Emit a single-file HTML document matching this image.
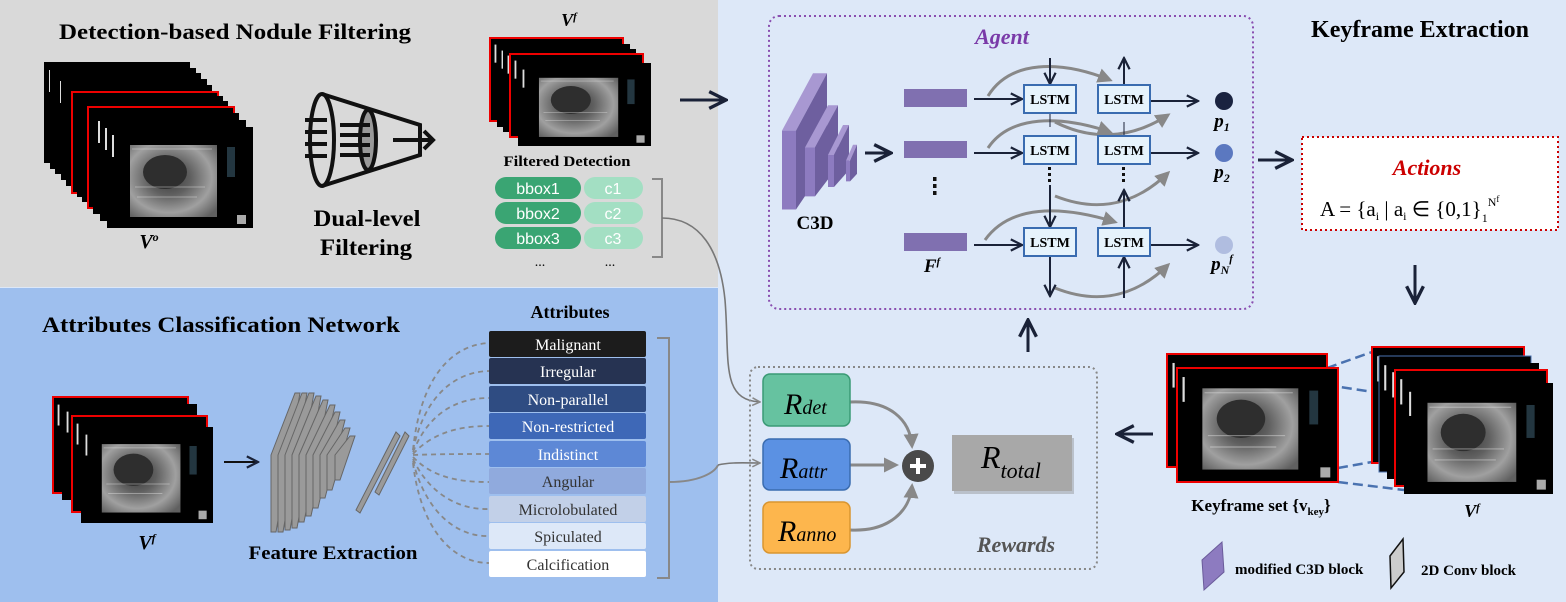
<!DOCTYPE html>
<html><head><meta charset="utf-8"><style>
html,body{margin:0;padding:0;background:#dde8f8;}
svg{display:block;font-family:"Liberation Serif",serif;}
</style></head><body>
<svg width="1566" height="602" viewBox="0 0 1566 602" xmlns="http://www.w3.org/2000/svg">
<defs>
<radialGradient id="ug" cx="0.45" cy="0.45" r="0.7">
<stop offset="0" stop-color="#3a3a3a"/><stop offset="0.35" stop-color="#606060"/><stop offset="0.7" stop-color="#a0a0a0"/><stop offset="1" stop-color="#606060"/>
</radialGradient>
<symbol id="us" viewBox="0 0 146 101" preserveAspectRatio="none">
<rect x="0" y="0" width="146" height="101" fill="#000"/>
<rect x="23" y="18" width="87" height="72" fill="url(#ug)"/>
<ellipse cx="58" cy="45" rx="22" ry="17" fill="#2e2e2e"/>
<path d="M25,22 h80 M28,60 h70 M30,70 h60" stroke="#ddd" stroke-width="0.8" opacity="0.6"/>
<rect x="5" y="8" width="2" height="22" fill="#ddd"/>
<rect x="120" y="20" width="8" height="30" fill="#3a5a6a" opacity="0.6"/>
<rect x="130" y="88" width="9" height="9" fill="#aaa"/>
</symbol>
<marker id="ak" viewBox="0 0 10 10" refX="9" refY="5" markerWidth="7" markerHeight="7" orient="auto"><path d="M1,1 L9,5 L1,9" fill="none" stroke="#1a2238" stroke-width="1.6"/></marker>
<marker id="ag" viewBox="0 0 10 10" refX="8" refY="5" markerWidth="5" markerHeight="5" orient="auto"><path d="M0,0 L10,5 L0,10 z" fill="#888"/></marker>
<marker id="agl" viewBox="0 0 10 10" refX="9" refY="5" markerWidth="6" markerHeight="6" orient="auto"><path d="M1,1 L9,5 L1,9" fill="none" stroke="#888" stroke-width="1.6"/></marker>
</defs>

<rect x="0" y="0" width="718" height="287" fill="#d9d9d9"/>
<rect x="0" y="288" width="718" height="314" fill="#9ebfee"/>
<rect x="719" y="0" width="847" height="602" fill="#dde8f8"/>

<text x="59" y="39" font-size="22" font-weight="bold" textLength="352" lengthAdjust="spacingAndGlyphs">Detection-based Nodule Filtering</text>
<g>
<use href="#us" x="44" y="62" width="146" height="101"/>
<use href="#us" x="50" y="68" width="146" height="101"/>
<use href="#us" x="55" y="73" width="146" height="101"/>
<use href="#us" x="61" y="79" width="146" height="101"/>
<use href="#us" x="66" y="85" width="146" height="101"/>
<use href="#us" x="72" y="92" width="146" height="101"/><rect x="72" y="92" width="146" height="101" fill="none" stroke="#e00" stroke-width="2"/>
<use href="#us" x="77" y="96" width="146" height="101"/>
<use href="#us" x="82" y="101" width="146" height="101"/>
<use href="#us" x="88" y="107" width="146" height="101"/><rect x="88" y="107" width="146" height="101" fill="none" stroke="#e00" stroke-width="2"/>
<use href="#us" x="93" y="113" width="146" height="101"/>
<use href="#us" x="100" y="120" width="146" height="101"/>
<use href="#us" x="107" y="127" width="146" height="101"/>
</g>
<text x="149" y="248" font-size="20" font-style="italic" font-weight="bold" text-anchor="middle">V<tspan font-size="12" dy="-7">o</tspan></text>

<g fill="none" stroke="#111" stroke-width="4">
<ellipse cx="322" cy="140" rx="12" ry="46"/>
<ellipse cx="368" cy="140" rx="8" ry="30" fill="#999"/>
<path d="M322,94 L420,125 L420,155 L322,186"/>
<path d="M305,120 h22 M305,132 h22 M305,144 h22 M305,156 h22"/>
<path d="M340,125 h30 M340,135 h30 M340,145 h30 M340,155 h30"/>
<path d="M393,140 h38 M424,131 l9,9 l-9,9"/>
</g>
<text x="367" y="226" font-size="23" font-weight="bold" text-anchor="middle" textLength="107" lengthAdjust="spacingAndGlyphs">Dual-level</text>
<text x="366" y="255" font-size="23" font-weight="bold" text-anchor="middle" textLength="92" lengthAdjust="spacingAndGlyphs">Filtering</text>

<text x="569" y="26" font-size="18" font-style="italic" font-weight="bold" text-anchor="middle">V<tspan font-size="11" dy="-6">f</tspan></text>
<use href="#us" x="490" y="38" width="133" height="83"/><rect x="490" y="38" width="133" height="83" fill="none" stroke="#e00" stroke-width="2"/>
<use href="#us" x="497" y="44" width="133" height="83"/>
<use href="#us" x="503" y="49" width="133" height="83"/>
<use href="#us" x="510" y="54" width="133" height="83"/><rect x="510" y="54" width="133" height="83" fill="none" stroke="#e00" stroke-width="2"/>
<use href="#us" x="518" y="63" width="133" height="83"/>
<text x="567" y="166" font-size="15" font-weight="bold" text-anchor="middle" textLength="127" lengthAdjust="spacingAndGlyphs">Filtered Detection</text>
<g font-family="Liberation Sans, sans-serif" font-size="16" fill="#fff" text-anchor="middle">
<rect x="495" y="177" width="86" height="22" rx="11" fill="#3aa573"/><rect x="584" y="177" width="59" height="22" rx="11" fill="#a3dfc3"/>
<text x="538" y="194">bbox1</text><text x="613" y="194">c1</text>
<rect x="495" y="202" width="86" height="22" rx="11" fill="#3aa573"/><rect x="584" y="202" width="59" height="22" rx="11" fill="#a3dfc3"/>
<text x="538" y="219">bbox2</text><text x="613" y="219">c2</text>
<rect x="495" y="227" width="86" height="22" rx="11" fill="#3aa573"/><rect x="584" y="227" width="59" height="22" rx="11" fill="#a3dfc3"/>
<text x="538" y="244">bbox3</text><text x="613" y="244">c3</text>
</g>
<text x="540" y="266" font-size="14" text-anchor="middle">...</text><text x="610" y="266" font-size="14" text-anchor="middle">...</text>
<path d="M652,179 h10 v78 h-10" fill="none" stroke="#888" stroke-width="2"/>
<path d="M680,100 h46" stroke="#1a2238" stroke-width="3" marker-end="url(#ak)"/>

<text x="42" y="332" font-size="22" font-weight="bold" textLength="358" lengthAdjust="spacingAndGlyphs">Attributes Classification Network</text>
<use href="#us" x="53" y="397" width="135" height="96"/><rect x="53" y="397" width="135" height="96" fill="none" stroke="#e00" stroke-width="2"/>
<use href="#us" x="62" y="404" width="135" height="96"/>
<use href="#us" x="72" y="416" width="135" height="96"/><rect x="72" y="416" width="135" height="96" fill="none" stroke="#e00" stroke-width="2"/>
<use href="#us" x="81" y="427" width="132" height="96"/>
<text x="147" y="549" font-size="20" font-style="italic" font-weight="bold" text-anchor="middle">V<tspan font-size="12" dy="-7">f</tspan></text>
<path d="M224,462 h34" stroke="#111" stroke-width="2" marker-end="url(#ak)"/>
<g fill="#9a9a9a" stroke="#666" stroke-width="1">
<polygon points="271,455 295,393 300,393 276,532 271,532"/>
<polygon points="278,455 302,393 307,393 283,532 278,532"/>
<polygon points="285,455 309,393 314,393 290,530 285,530"/>
<polygon points="292,455 316,396 321,396 297,528 292,528"/>
<polygon points="299,455 323,400 328,400 304,522 299,522"/>
<polygon points="306,455 330,405 335,405 311,516 306,516"/>
<polygon points="313,455 335,412 340,412 318,508 313,508"/>
<polygon points="320,455 340,420 345,420 325,498 320,498"/>
<polygon points="327,455 345,428 350,428 332,490 327,490"/>
<polygon points="335,455 350,436 355,436 340,480 335,480"/>
<polygon points="356,510 396,432 400,436 360,513"/>
<polygon points="375,492 405,432 409,436 379,495"/>
</g>
<text x="333" y="559" font-size="19" font-weight="bold" text-anchor="middle" textLength="169" lengthAdjust="spacingAndGlyphs">Feature Extraction</text>
<text x="570" y="318" font-size="18" font-weight="bold" text-anchor="middle">Attributes</text>
<g fill="none" stroke="#888" stroke-width="1.8" stroke-dasharray="5,4">
<path d="M413,450 C420,380 450,345 489,343"/>
<path d="M413,450 C425,395 455,372 489,371"/>
<path d="M413,452 C430,410 460,398 489,398"/>
<path d="M413,454 C435,430 465,426 489,426"/>
<path d="M413,455 C440,454 465,454 489,454"/>
<path d="M413,457 C435,480 465,482 489,482"/>
<path d="M413,459 C430,495 460,510 489,509"/>
<path d="M413,461 C425,510 455,537 489,536"/>
<path d="M413,463 C420,525 450,563 489,563"/>
</g>
<g font-size="16" text-anchor="middle">
<rect x="489" y="331" width="157" height="26" rx="2" fill="#1c1c1c"/><text x="568" y="350" fill="#fff">Malignant</text>
<rect x="489" y="358" width="157" height="26" rx="2" fill="#263352"/><text x="568" y="377" fill="#fff">Irregular</text>
<rect x="489" y="386" width="157" height="26" rx="2" fill="#2f4c82"/><text x="568" y="405" fill="#fff">Non-parallel</text>
<rect x="489" y="413" width="157" height="26" rx="2" fill="#3e68b7"/><text x="568" y="432" fill="#fff">Non-restricted</text>
<rect x="489" y="441" width="157" height="26" rx="2" fill="#5d88d6"/><text x="568" y="460" fill="#fff">Indistinct</text>
<rect x="489" y="468" width="157" height="26" rx="2" fill="#90aadd"/><text x="568" y="487" fill="#333">Angular</text>
<rect x="489" y="496" width="157" height="26" rx="2" fill="#c2d0e8"/><text x="568" y="515" fill="#333">Microlobulated</text>
<rect x="489" y="523" width="157" height="26" rx="2" fill="#dde8f8"/><text x="568" y="542" fill="#333">Spiculated</text>
<rect x="489" y="551" width="157" height="26" rx="2" fill="#fff"/><text x="568" y="570" fill="#333">Calcification</text>
</g>
<path d="M657,338 h12 v240 h-12 M669,482 C700,482 715,472 718,465" fill="none" stroke="#888" stroke-width="2"/>

<path d="M662,218 C700,218 720,250 725,300 C730,360 720,400 760,402" fill="none" stroke="#777" stroke-width="1.6" marker-end="url(#agl)"/>
<path d="M718,465 C730,462 745,463 760,463" fill="none" stroke="#777" stroke-width="1.6" marker-end="url(#agl)"/>

<rect x="769" y="16" width="484" height="293" rx="10" fill="none" stroke="#8a4fb0" stroke-width="2" stroke-dasharray="2,3"/>
<text x="1002" y="44" font-size="22" font-weight="bold" font-style="italic" fill="#7a3aa8" text-anchor="middle">Agent</text>
<g transform="matrix(1,0,0,0.94,0,-1)">
<polygon points="782,140 813,79 827,79 796,140" fill="#a898d2"/>
<polygon points="782,140 796,140 796,224 782,224" fill="#8d7bc0"/>
<polygon points="796,140 827,79 827,175 796,224" fill="#6e5f9f"/>
<polygon points="805,158 828,113 838,113 815,158" fill="#a898d2"/>
<polygon points="805,158 815,158 815,210 805,210" fill="#8d7bc0"/>
<polygon points="815,158 838,113 838,178 815,210" fill="#6e5f9f"/>
<polygon points="828,166 843,134 849,134 834,166" fill="#a898d2"/>
<polygon points="828,166 834,166 834,200 828,200" fill="#8d7bc0"/>
<polygon points="834,166 849,134 849,182 834,200" fill="#6e5f9f"/>
<polygon points="846,172 853,155 857,155 850,172" fill="#a898d2"/>
<polygon points="846,172 850,172 850,194 846,194" fill="#8d7bc0"/>
<polygon points="850,172 857,155 857,186 850,194" fill="#6e5f9f"/>
</g>
<text x="815" y="229" font-size="19" font-weight="bold" text-anchor="middle">C3D</text>
<path d="M865,153 h26" stroke="#1a2238" stroke-width="3" marker-end="url(#ak)"/>
<rect x="904" y="89" width="63" height="18" fill="#8070b0"/>
<rect x="904" y="141" width="63" height="17" fill="#8070b0"/>
<rect x="904" y="233" width="63" height="18" fill="#8070b0"/>
<g fill="#111"><rect x="933" y="177" width="3.5" height="4"/><rect x="933" y="184" width="3.5" height="4"/><rect x="933" y="191" width="3.5" height="4"/></g>
<text x="932" y="272" font-size="19" font-style="italic" font-weight="bold" text-anchor="middle">F<tspan font-size="11" dy="-7">f</tspan></text>

<g fill="none" stroke="#888" stroke-width="3">
<path d="M988,96 C1010,60 1060,60 1110,80" marker-end="url(#ag)"/>
<path d="M988,148 C1010,115 1060,115 1110,132" marker-end="url(#ag)"/>
<path d="M985,240 C1010,205 1060,205 1115,222" marker-end="url(#ag)"/>
<path d="M1055,122 C1090,140 1130,140 1168,115" marker-end="url(#ag)"/>
<path d="M1055,196 C1090,210 1130,210 1168,173" marker-end="url(#ag)"/>
<path d="M1055,288 C1090,302 1130,302 1168,265" marker-end="url(#ag)"/>
</g>
<g stroke="#1a2238" stroke-width="2" fill="none">
<path d="M974,99 h48" marker-end="url(#ak)"/>
<path d="M974,153 h48" marker-end="url(#ak)"/>
<path d="M974,245 h48" marker-end="url(#ak)"/>
<path d="M1150,101 h48" marker-end="url(#ak)"/>
<path d="M1150,153 h48" marker-end="url(#ak)"/>
<path d="M1150,245 h48" marker-end="url(#ak)"/>
<path d="M1050,58 v26" marker-end="url(#ak)"/>
<path d="M1124,84 v-26" marker-end="url(#ak)"/>
<path d="M1050,185 v42" marker-end="url(#ak)"/>
<path d="M1124,228 v-38" marker-end="url(#ak)"/>
<path d="M1050,256 v40" marker-end="url(#ak)"/>
<path d="M1124,298 v-41" marker-end="url(#ak)"/>
<path d="M1050,113 v14" stroke-width="1"/>
<path d="M1124,136 v-14" stroke-width="1"/>
</g>
<g fill="#111"><rect x="1048" y="167" width="3" height="3"/><rect x="1048" y="173" width="3" height="3"/><rect x="1048" y="179" width="3" height="3"/>
<rect x="1122" y="167" width="3" height="3"/><rect x="1122" y="173" width="3" height="3"/><rect x="1122" y="179" width="3" height="3"/></g>
<g font-size="14" font-weight="bold" text-anchor="middle">
<rect x="1024" y="85" width="52" height="28" fill="#e6f3fc" stroke="#3a6cb0" stroke-width="2"/><text x="1050" y="104">LSTM</text>
<rect x="1098" y="85" width="52" height="28" fill="#e6f3fc" stroke="#3a6cb0" stroke-width="2"/><text x="1124" y="104">LSTM</text>
<rect x="1024" y="136" width="52" height="28" fill="#e6f3fc" stroke="#3a6cb0" stroke-width="2"/><text x="1050" y="155">LSTM</text>
<rect x="1098" y="136" width="52" height="28" fill="#e6f3fc" stroke="#3a6cb0" stroke-width="2"/><text x="1124" y="155">LSTM</text>
<rect x="1024" y="228" width="52" height="28" fill="#e6f3fc" stroke="#3a6cb0" stroke-width="2"/><text x="1050" y="247">LSTM</text>
<rect x="1098" y="228" width="52" height="28" fill="#e6f3fc" stroke="#3a6cb0" stroke-width="2"/><text x="1124" y="247">LSTM</text>
</g>
<circle cx="1224" cy="101" r="9" fill="#1a2340"/>
<circle cx="1224" cy="153" r="9" fill="#5b78c0"/>
<circle cx="1224" cy="245" r="9" fill="#b0bde0"/>
<g font-size="19" font-style="italic" font-weight="bold" text-anchor="middle">
<text x="1222" y="127">p<tspan font-size="12" dy="4">1</tspan></text>
<text x="1222" y="178">p<tspan font-size="12" dy="4">2</tspan></text>
<text x="1222" y="270">p<tspan font-size="12" dy="4">N</tspan><tspan font-size="11" dy="-12">f</tspan></text>
</g>

<text x="1420" y="37" font-size="24" font-weight="bold" text-anchor="middle">Keyframe Extraction</text>
<path d="M1258,160 h34" stroke="#1a2238" stroke-width="3" marker-end="url(#ak)"/>
<rect x="1302" y="137" width="256" height="93" fill="#fff" stroke="#c00" stroke-width="2" stroke-dasharray="2,3"/>
<text x="1427" y="175" font-size="22" font-weight="bold" font-style="italic" fill="#c00" text-anchor="middle">Actions</text>
<text x="1320" y="216" font-size="21">A = {a<tspan font-size="12" dy="4">i</tspan><tspan dy="-4"> | a</tspan><tspan font-size="12" dy="4">i</tspan><tspan dy="-4"> ∈ {0,1}</tspan><tspan font-size="12" dy="6">1</tspan><tspan font-size="12" dy="-16">N</tspan><tspan font-size="9" dy="-4">f</tspan></text>
<path d="M1415,265 v38" stroke="#1a2238" stroke-width="3" marker-end="url(#ak)"/>

<path d="M1028,352 v-32" stroke="#1a2238" stroke-width="3" marker-end="url(#ak)"/>
<rect x="750" y="367" width="347" height="202" rx="8" fill="none" stroke="#888" stroke-width="2" stroke-dasharray="2,3"/>
<g fill="none" stroke="#888" stroke-width="3">
<path d="M850,402 C890,400 910,420 912,446" marker-end="url(#ag)"/>
<path d="M850,465 h46" marker-end="url(#ag)"/>
<path d="M850,530 C890,532 910,510 912,486" marker-end="url(#ag)"/>
</g>
<rect x="763" y="374" width="87" height="52" rx="7" fill="#66c2a0" stroke="#3a9a75" stroke-width="1.5"/>
<rect x="763" y="439" width="87" height="51" rx="7" fill="#5b91e3" stroke="#3a6cb0" stroke-width="1.5"/>
<rect x="763" y="502" width="87" height="51" rx="7" fill="#fdb64d" stroke="#d99530" stroke-width="1.5"/>
<g font-size="30" font-style="italic">
<text x="784" y="414">R<tspan font-size="20">det</tspan></text>
<text x="780" y="478">R<tspan font-size="20">attr</tspan></text>
<text x="778" y="541">R<tspan font-size="20">anno</tspan></text>
</g>
<circle cx="918" cy="466" r="16" fill="#4a4a4a"/>
<path d="M918,458 v16 M910,466 h16" stroke="#fff" stroke-width="4"/>
<rect x="954" y="438" width="120" height="56" fill="#888" opacity="0.4"/>
<rect x="952" y="435" width="120" height="56" fill="#a8a8a8"/>
<text x="981" y="468" font-size="32" font-style="italic">R<tspan font-size="22" dy="10">total</tspan></text>
<text x="1016" y="552" font-size="22" font-weight="bold" font-style="italic" fill="#555" text-anchor="middle">Rewards</text>
<path d="M1153,434 h-36" stroke="#1a2238" stroke-width="3" marker-end="url(#ak)"/>

<g stroke="#4a72b0" stroke-width="2.5" stroke-dasharray="10,5">
<path d="M1327,368 L1372,352"/><path d="M1327,385 L1400,396"/>
<path d="M1338,468 L1372,462"/><path d="M1338,482 L1404,490"/>
</g>
<use href="#us" x="1167" y="354" width="160" height="113"/><rect x="1167" y="354" width="160" height="113" fill="none" stroke="#e00" stroke-width="2"/>
<use href="#us" x="1177" y="368" width="161" height="114"/><rect x="1177" y="368" width="161" height="114" fill="none" stroke="#e00" stroke-width="2"/>
<use href="#us" x="1372" y="347" width="152" height="116"/><rect x="1372" y="347" width="152" height="116" fill="none" stroke="#e00" stroke-width="2"/>
<use href="#us" x="1379" y="356" width="152" height="116"/><rect x="1379" y="356" width="152" height="116" fill="none" stroke="#4a72b0" stroke-width="1"/>
<use href="#us" x="1387" y="363" width="152" height="116"/>
<use href="#us" x="1395" y="370" width="152" height="116"/><rect x="1395" y="370" width="152" height="116" fill="none" stroke="#e00" stroke-width="2"/>
<use href="#us" x="1404" y="383" width="149" height="111"/>
<text x="1261" y="511" font-size="17" font-weight="bold" text-anchor="middle">Keyframe set {v<tspan font-size="11" dy="4">key</tspan><tspan dy="-4">}</tspan></text>
<text x="1472" y="517" font-size="18" font-style="italic" font-weight="bold" text-anchor="middle">V<tspan font-size="11" dy="-6">f</tspan></text>

<polygon points="1202,560 1222,542 1224,572 1204,590" fill="#8d7bc0" stroke="#6a5b9a"/>
<text x="1235" y="574" font-size="15" font-weight="bold">modified C3D block</text>
<polygon points="1390,556 1403,539 1404,572 1391,588" fill="#ccc" stroke="#111" stroke-width="1.5"/>
<text x="1421" y="575" font-size="15" font-weight="bold">2D Conv block</text>
</svg>
</body></html>
